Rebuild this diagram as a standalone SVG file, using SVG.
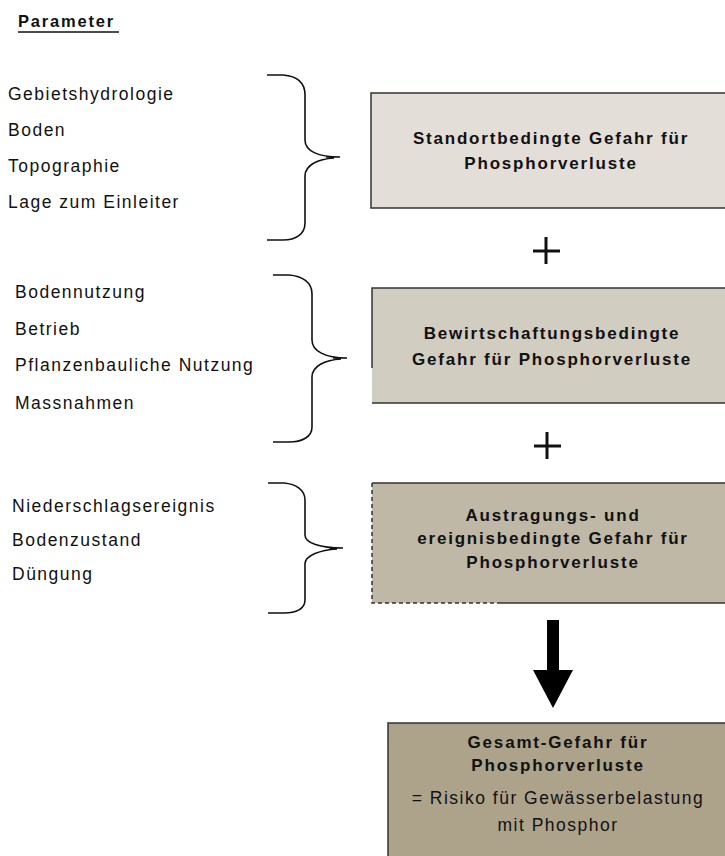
<svg xmlns="http://www.w3.org/2000/svg" width="725" height="856" viewBox="0 0 725 856">
<style>
.p{font-family:"Liberation Sans",Arial,sans-serif;font-size:17.5px;letter-spacing:1.5px;fill:#111}
.b{font-family:"Liberation Sans",Arial,sans-serif;font-size:17px;font-weight:bold;letter-spacing:1.8px;fill:#111;text-anchor:middle}
.r{font-family:"Liberation Sans",Arial,sans-serif;font-size:17.5px;letter-spacing:1.5px;fill:#111;text-anchor:middle}
.box{stroke:#333;stroke-width:1.5}
.brace{fill:none;stroke:#111;stroke-width:1.6}
.plus{stroke:#111;stroke-width:3}
</style>
<rect width="725" height="856" fill="#fff"/>
<g id="title">
<text x="18" y="27" style="font-family:'Liberation Sans',Arial,sans-serif;font-size:16.5px;font-weight:bold;letter-spacing:1.8px;fill:#111">Parameter</text>
<line x1="18" y1="32" x2="119" y2="32" stroke="#111" stroke-width="1.3"/>
</g>
<g id="params1">
<text class="p" x="8" y="100">Gebietshydrologie</text>
<text class="p" x="8" y="136">Boden</text>
<text class="p" x="8" y="172">Topographie</text>
<text class="p" x="8" y="208">Lage zum Einleiter</text>
</g>
<g id="params2">
<text class="p" x="15" y="298">Bodennutzung</text>
<text class="p" x="15" y="335">Betrieb</text>
<text class="p" x="15" y="371">Pflanzenbauliche Nutzung</text>
<text class="p" x="15" y="409">Massnahmen</text>
</g>
<g id="params3">
<text class="p" x="12" y="512">Niederschlagsereignis</text>
<text class="p" x="12" y="546">Bodenzustand</text>
<text class="p" x="12" y="580">Düngung</text>
</g>
<g id="node1">
<rect class="box" x="371" y="93" width="360" height="115" fill="#e3dfd8"/>
<text class="b" x="551" y="144">Standortbedingte Gefahr für</text>
<text class="b" x="551" y="169">Phosphorverluste</text>
</g>
<g id="node2">
<rect x="372" y="288" width="360" height="115" fill="#d1cdc0"/>
<path class="box" fill="none" d="M372,368 V288 H732 M372,403 H732"/>
<text class="b" x="552" y="339">Bewirtschaftungsbedingte</text>
<text class="b" x="552" y="365">Gefahr für Phosphorverluste</text>
</g>
<g id="node3">
<rect x="372" y="483" width="360" height="120" fill="#bfb8a6"/>
<path class="box" fill="none" d="M372,483 H732 M500,603 H732"/>
<path fill="none" stroke="#333" stroke-width="1.5" stroke-dasharray="4,3" d="M372,483 V603 H500"/>
<text class="b" x="553" y="521">Austragungs- und</text>
<text class="b" x="553" y="544">ereignisbedingte Gefahr für</text>
<text class="b" x="553" y="568">Phosphorverluste</text>
</g>
<g id="node4">
<rect class="box" x="388" y="723" width="345" height="140" fill="#ada38b"/>
<text class="b" x="558" y="748">Gesamt-Gefahr für</text>
<text class="b" x="558" y="771">Phosphorverluste</text>
<text class="r" x="558" y="804">= Risiko für Gewässerbelastung</text>
<text class="r" x="558" y="831">mit Phosphor</text>
</g>
<g id="connectors">
<path class="brace" d="M267,75 L283,75 C296,76 305,82 305,95 L305,140 C305,151 318,157 340,157 M340,157 L326,157 M334,158 C318,159 305,165 305,176 L305,223 C305,234 296,240 283,240 L267,240"/>
<path class="brace" d="M273,275 L289,275 C302,276 312,282 312,294 L312,340 C312,351 325,358 347,358 M347,358 L333,358 M341,359 C325,360 312,366 312,377 L312,427 C312,437 302,442 289,442 L273,442"/>
<path class="brace" d="M268,483 L284,483 C296,484 305,490 305,500 L305,535 C305,543 320,548 343,548 M343,548 L329,548 M337,549 C321,550 305,555 305,564 L305,600 C305,609 296,613 284,613 L268,613"/>
<path class="plus" d="M533,251 H560 M546,237 V264"/>
<path class="plus" d="M534,446 H561 M547,432 V459"/>
<path fill="#000" d="M547,620 H559 V670 H573 L553,708 L533,670 H547 Z"/>
</g>
</svg>
